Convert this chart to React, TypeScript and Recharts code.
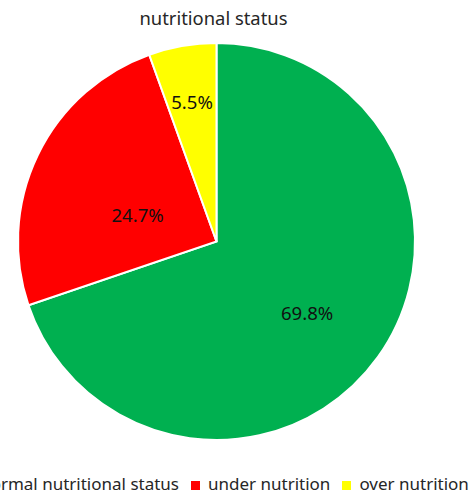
import { PieChart, Pie, Cell, Legend } from 'recharts';

const categories = ['normal nutritional status', 'under nutrition', 'over nutrition'];
const shares = [69.8, 24.7, 5.5];
const colors = ['#00B050', '#FF0000', '#FFFF00'];

const data = categories.map((name, i) => ({ name, value: shares[i] }));

// chart is wider than the window so the legend is clipped like the original
const W = 560;
const H = 494;
const SHIFT = 64;
const FONT = '"Noto Sans", sans-serif';
const RADIAN = Math.PI / 180;

// label placement tweaks (radius factor, angle nudge in degrees)
const labelPos = [
  { r: 0.58, da: -2.5 },
  { r: 0.42, da: 7 },
  { r: 0.715, da: 0 },
];

const renderLabel = (props: any) => {
  const { cx, cy, midAngle, outerRadius, index, value } = props;
  const p = labelPos[index];
  const a = (midAngle + p.da) * RADIAN;
  const x = cx + outerRadius * p.r * Math.cos(-a);
  const y = cy + outerRadius * p.r * Math.sin(-a);
  return (
    <text x={x} y={y} textAnchor="middle" dominantBaseline="central" fill="#111" fontSize={18.6} fontFamily={FONT}>
      {`${value}%`}
    </text>
  );
};

const LegendContent = () => (
  <div style={{ display: 'flex', justifyContent: 'center', alignItems: 'baseline', width: W, height: 22, lineHeight: '22px', fontFamily: FONT, fontSize: 17, color: '#262626', whiteSpace: 'nowrap' }}>
    {categories.map((c, i) => (
      <span key={c} style={{ display: 'inline-flex', alignItems: 'baseline', marginRight: i < categories.length - 1 ? 12 : 0 }}>
        <span style={{ display: 'inline-block', width: 9, height: 9, background: colors[i], marginRight: 8 }} />
        <span>{c}</span>
      </span>
    ))}
  </div>
);

export default function App() {
  return (
    <div style={{ position: 'absolute', top: 0, left: 0, width: 471, height: 494, overflow: 'hidden', background: '#fff' }}>
      <div style={{ position: 'absolute', top: 0, left: -SHIFT }}>
        <PieChart width={W} height={H} margin={{ top: 0, right: 0, bottom: 0, left: 0 }}>
          <text x={213.5 + SHIFT} y={25} textAnchor="middle" fill="#262626" fontSize={18.4} fontFamily={FONT}>
            nutritional status
          </text>
          <Pie
            data={data}
            dataKey="value"
            nameKey="name"
            cx={216.5 + SHIFT}
            cy={241.5}
            outerRadius={198.5}
            startAngle={90}
            endAngle={-270}
            stroke="#fff"
            strokeWidth={2}
            label={renderLabel}
            labelLine={false}
            isAnimationActive={false}
          >
            {data.map((d, i) => (
              <Cell key={d.name} fill={colors[i]} />
            ))}
          </Pie>
          <Legend verticalAlign="bottom" content={LegendContent} wrapperStyle={{ left: 0, bottom: -1, width: W }} />
        </PieChart>
      </div>
    </div>
  );
}
